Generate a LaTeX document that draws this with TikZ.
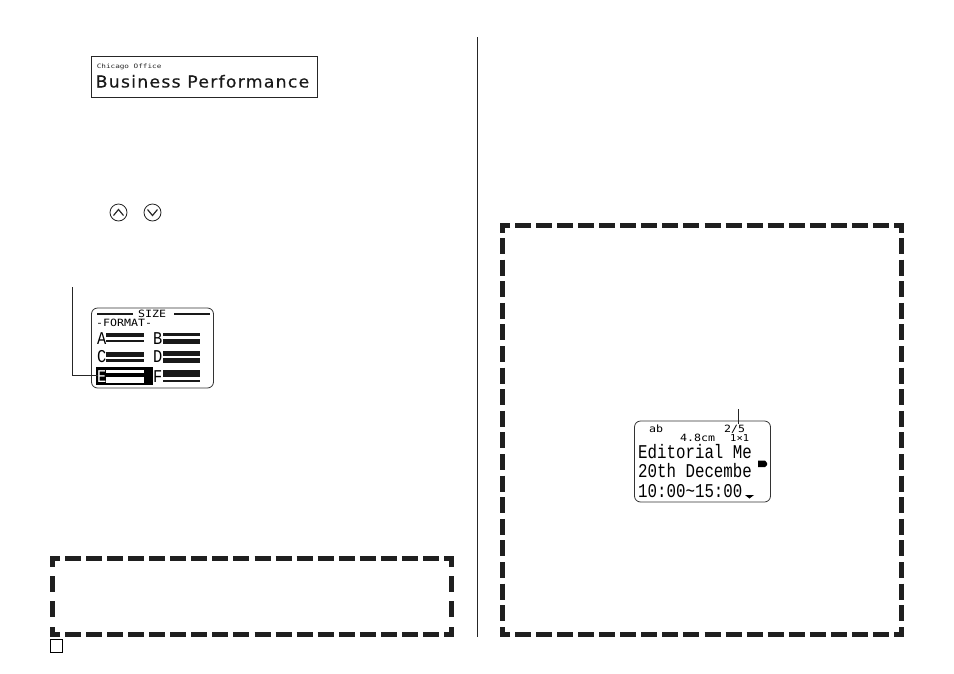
\documentclass[tikz,border=0pt]{standalone}
\usepackage{fontspec}
\setmainfont{DejaVu Sans}
\newfontfamily\lcd{DejaVu Sans Mono}
\newfontfamily\lcdthin{Liberation Mono}
\newfontfamily\lcdtitle[LetterSpace=7,FakeBold=0.4]{DejaVu Sans}
\tikzset{
 x=1pt,y=-1pt,
 hdash/.style={line width=5pt,black!88,dash pattern=on 16pt off 5.06pt},
 vdashL/.style={line width=5pt,black!88,dash pattern=on 16pt off 9pt},
 vdashR/.style={line width=5pt,black!88,dash pattern=on 16pt off 5.6pt},
 corner/.style={line width=5pt,black!88,line cap=butt,miter limit=10},
 thin rule/.style={line width=0.9pt,black!85},
 lcdbox/.style={draw=black!80,line width=0.8pt,rounded corners=6pt,fill=white},
 lcdtext/.style={inner sep=0pt,anchor=base west,font=\lcd},
 small lcd/.style={lcdtext,font=\lcd\fontsize{10}{10}\selectfont,xscale=1.16},
 big lcd/.style={lcdtext,font=\lcdthin\fontsize{18}{18}\selectfont,xscale=.85},
 line lcd/.style={lcdtext,font=\lcdthin\fontsize{19.5}{19}\selectfont,xscale=.81},
}
\newcommand{\lbar}[4]{\fill[black!90] (#1,#2) rectangle (#3,#4);}
\begin{document}
\begin{tikzpicture}
\useasboundingbox (0,0) rectangle (954,673);
% column rule
\coordinate (ct) at (477.5,37); \coordinate (cb) at (477.5,637);
\draw[thin rule] (ct) -- (cb);
% title box
\node[draw=black!85,line width=0.8pt,minimum width=226pt,minimum height=41pt,inner sep=0pt] (title) at (204.5,76.5) {};
\node[lcdtext,font=\lcd\fontsize{6}{6}\selectfont,text=black!85,xscale=1.28] (t1) at (96.5,68) {Chicago Office};
\node[lcdtext,font=\lcdtitle\fontsize{16.5}{17}\selectfont,text=black!90,xscale=1.05] (t2) at (95.5,87.5) {Business Performance};
% arrow keys
\node[circle,draw=black!85,line width=0.8pt,minimum size=17pt,inner sep=0pt] (up) at (118.5,212.5) {};
\node[circle,draw=black!85,line width=0.8pt,minimum size=17pt,inner sep=0pt] (dn) at (152.5,212.5) {};
\draw[black!85,line width=1.2pt] (113.5,215.5) -- (118.5,209.5) -- (123.5,215.5);
\draw[black!85,line width=1.2pt] (147.5,209.5) -- (152.5,215.5) -- (157.5,209.5);
% size screen
\node[lcdbox,minimum width=122pt,minimum height=80pt,inner sep=0pt] (size) at (152.5,348) {};
\lbar{97}{313}{133}{315}
\lbar{174}{313}{210}{315}
\node[small lcd] (sz) at (138,317.5) {SIZE};
\node[small lcd] (fm) at (96,326.5) {-FORMAT-};
\fill[black] (96,367) rectangle (153,385);
\foreach \n/\lx/\ly/\c in {a/97/344/A,b/153/344/B,c/97/362/C,d/153/362/D,f/153/382/F}
 \node[big lcd] (\n) at (\lx,\ly) {\c};
\node[big lcd,text=white] (e) at (97,382) {E};
\lbar{106}{333}{144}{337} \lbar{106}{340}{144}{342}
\lbar{163}{333}{200}{336} \lbar{163}{339}{200}{344}
\lbar{106}{352}{144}{357} \lbar{106}{359}{144}{361.5}
\lbar{163}{351}{200}{356} \lbar{163}{358}{200}{363}
\fill[white] (106,370) rectangle (144,372.5);
\fill[white] (106,377) rectangle (144,382.5);
\lbar{163}{370}{200}{377} \lbar{163}{380}{200}{382}
% leader to E
\coordinate (lt) at (72.5,287);
\coordinate (lc) at (72.5,375);
\coordinate (le) at (98,375);
\draw[thin rule] (lt) -- (lc) -- (le);
% bottom-left dashed box
\coordinate (a1) at (52.5,558.5);
\coordinate (a2) at (451.5,558.5);
\coordinate (a3) at (451.5,634.5);
\coordinate (a4) at (52.5,634.5);
\draw[corner] (60,558.5) -- (a1) -- (52.5,567);
\draw[corner] (444,558.5) -- (a2) -- (451.5,567);
\draw[corner] (60,634.5) -- (a4) -- (52.5,627);
\draw[corner] (444,634.5) -- (a3) -- (451.5,627);
\draw[hdash] (65,558.5) -- (439,558.5);
\draw[hdash] (65,634.5) -- (439,634.5);
\draw[vdashL] (52.5,576) -- (52.5,617);
\draw[vdashL] (451.5,576) -- (451.5,617);
% page box
\node[draw=black,line width=.9pt,minimum width=12pt,minimum height=13pt,inner sep=0pt] (pg) at (56,645.5) {};
% right dashed box
\coordinate (b1) at (502.5,225.5);
\coordinate (b2) at (901.5,225.5);
\coordinate (b3) at (901.5,634.5);
\coordinate (b4) at (502.5,634.5);
\draw[corner] (510,225.5) -- (b1) -- (502.5,233);
\draw[corner] (894,225.5) -- (b2) -- (901.5,233);
\draw[corner] (510,634.5) -- (b4) -- (502.5,627);
\draw[corner] (894,634.5) -- (b3) -- (901.5,627);
\draw[hdash] (515,225.5) -- (889,225.5);
\draw[hdash] (515,634.5) -- (889,634.5);
\draw[vdashR] (502.5,238) -- (502.5,621);
\draw[vdashR] (901.5,238) -- (901.5,621);
% editorial screen
\node[lcdbox,minimum width=136pt,minimum height=81pt,inner sep=0pt] (ed) at (702.5,461.5) {};
\node[small lcd] (ab) at (649,432) {ab};
\node[small lcd] (fr) at (724,432) {2/5};
\node[small lcd] (cm) at (680,441.5) {4.8cm};
\node[lcdtext,font=\lcd\fontsize{9.5}{10}\selectfont,xscale=1.1] (ones) at (730,441.5) {1×1};
\node[line lcd] (l1) at (638,458) {Editorial Me};
\node[line lcd] (l2) at (638,477) {20th Decembe};
\node[line lcd] (l3) at (638,497) {10:00\char"7E 15:00};
\fill[black] (745,495) -- (754,495) -- (749.5,498.5) -- cycle;
\fill[black] (758,460.5) -- (765,460.5) -- (767,463) -- (767,465) -- (765,467) -- (758,467) -- cycle;
\coordinate (et) at (738,409);
\coordinate (eb) at (738,424);
\draw[thin rule] (et) -- (eb);
\end{tikzpicture}
\end{document}
